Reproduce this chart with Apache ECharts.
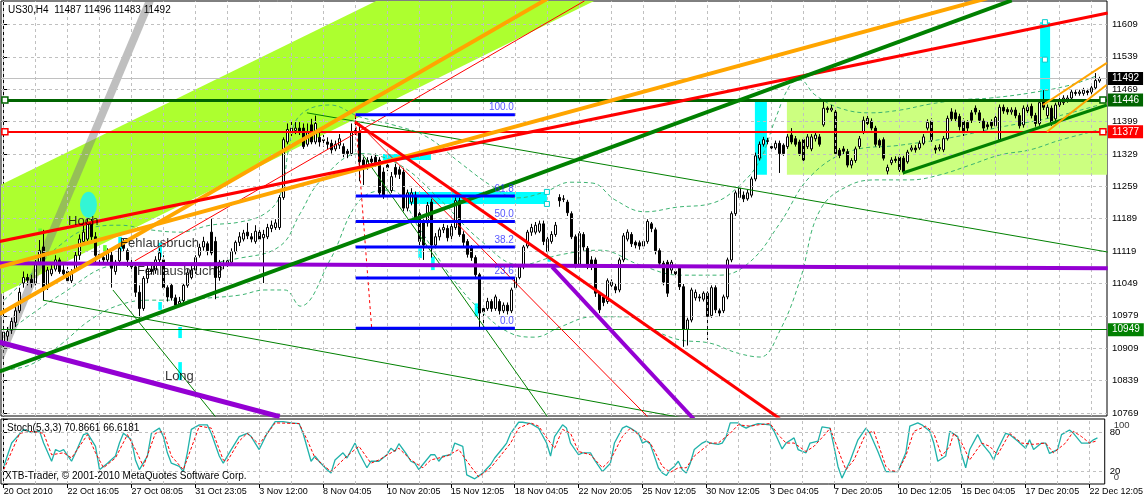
<!DOCTYPE html>
<html><head><meta charset="utf-8"><title>US30,H4</title>
<script src="https://cdn.jsdelivr.net/npm/echarts@6/dist/echarts.min.js"></script>
<style>html,body{margin:0;padding:0;background:#fff;}#chart{width:1146px;height:501px;}</style>
</head><body><div id="chart"></div>
<script>
// ---------- data ----------
const dateLabels = ['20 Oct 2010','22 Oct 16:05','27 Oct 08:05','31 Oct 23:05','3 Nov 12:00','8 Nov 04:05','10 Nov 20:05','15 Nov 12:05','18 Nov 04:05','22 Nov 20:05','25 Nov 12:05','30 Nov 12:05','3 Dec 04:05','7 Dec 20:05','10 Dec 12:05','15 Dec 04:05','17 Dec 20:05','22 Dec 12:05'];
const priceTicks = [10769,10839,10909,10979,11049,11119,11189,11259,11329,11399,11469,11539,11609];
const stochTicks = [0,20,80,100];
const stochInnerLabels = [20,80];
const stochEdgeLabels = [100,0];

// [open, close, low, high] per H4 bar
const candles = [
[10914,10944,10905,10953],[10935,10945,10925,10955],[10948,10967,10940,10975],[10965,10990,10955,11000],[10990,11030,10985,11040],[11050,11062,11040,11075],[11062,11056,11045,11070],[11058,11050,11040,11068],[11050,11092,11045,11100],[11095,11120,11090,11143],
[11128,11035,11013,11165],[11040,11078,11035,11085],[11070,11080,11065,11090],[11080,11100,11075,11110],[11100,11075,11070,11105],[11078,11070,11060,11090],[11075,11055,11050,11085],[11055,11075,11050,11080],[11078,11110,11075,11118],[11110,11145,11100,11155],
[11140,11160,11135,11175],[11145,11180,11140,11190],[11180,11150,11140,11190],[11150,11110,11095,11160],[11112,11105,11095,11120],[11105,11100,11090,11115],[11100,11115,11095,11125],[11110,11082,11040,11120],[11075,11095,11068,11100],[11098,11125,11095,11130],
[11135,11125,11118,11145],[11120,11100,11085,11125],[11092,11085,11075,11100],[11085,11030,11020,11095],[11030,10995,10975,11045],[10995,11060,10990,11065],[11060,11080,11050,11090],[11080,11075,11068,11092],[11078,11100,11070,11108],[11100,11115,11092,11125],
[11100,11040,11035,11110],[11040,11020,11010,11045],[11045,11018,11012,11050],[11018,11002,10998,11025],[11005,11010,10998,11020],[11012,11045,11005,11050],[11045,11072,11040,11080],[11062,11078,11058,11090],[11078,11105,11070,11110],[11110,11127,11105,11135],
[11128,11140,11120,11150],[11135,11120,11110,11140],[11160,11115,11110,11190],[11140,11062,11015,11150],[11062,11095,11055,11100],[11092,11088,11080,11100],[11090,11098,11085,11105],[11095,11118,11090,11125],[11118,11138,11112,11142],[11138,11150,11130,11160],
[11145,11158,11140,11165],[11160,11152,11145,11180],[11150,11145,11138,11158],[11140,11162,11135,11175],[11160,11145,11140,11170],[11148,11155,11050,11165],[11150,11170,11145,11178],[11168,11175,11160,11185],[11170,11180,11165,11188],[11170,11235,11165,11240],
[11235,11360,11230,11365],[11355,11382,11350,11395],[11375,11385,11368,11400],[11380,11385,11372,11398],[11385,11378,11370,11398],[11385,11345,11340,11395],[11350,11375,11345,11395],[11392,11355,11350,11405],[11355,11395,11350,11412],[11365,11355,11345,11375],
[11360,11358,11345,11370],[11355,11350,11340,11365],[11352,11338,11330,11360],[11340,11350,11335,11358],[11348,11362,11340,11372],[11345,11330,11322,11352],[11335,11330,11320,11340],[11330,11375,11325,11395],[11378,11380,11370,11412],[11378,11312,11270,11395],
[11316,11300,11262,11322],[11305,11315,11295,11322],[11318,11312,11305,11325],[11322,11310,11302,11330],[11316,11245,11238,11322],[11290,11240,11232,11300],[11305,11300,11292,11315],[11250,11280,11245,11290],[11300,11285,11278,11308],[11295,11285,11275,11302],
[11290,11212,11205,11298],[11212,11245,11205,11252],[11225,11245,11218,11255],[11240,11190,11182,11248],[11200,11140,11130,11205],[11180,11132,11100,11188],[11180,11218,11172,11225],[11225,11132,11105,11232],[11132,11150,11125,11158],[11150,11165,11142,11170],
[11165,11170,11158,11178],[11168,11148,11140,11175],[11152,11172,11145,11180],[11170,11228,11165,11235],[11228,11155,11150,11235],[11155,11138,11130,11162],[11140,11112,11105,11145],[11128,11105,11098,11132],[11105,11068,11060,11110],[11068,10985,10953,11072],
[10995,10988,10945,11002],[10995,11010,10990,11018],[11010,10995,10988,11015],[10995,11020,10990,11025],[11010,10990,10982,11015],[10990,11002,10985,11008],[11002,10990,10982,11008],[10990,11035,10985,11040],[11040,11062,11035,11068],[11062,11085,11058,11090],
[11085,11128,11080,11132],[11130,11160,11125,11165],[11160,11170,11152,11178],[11160,11175,11155,11182],[11162,11178,11158,11185],[11178,11140,11132,11185],[11118,11145,11112,11150],[11140,11155,11135,11162],[11155,11175,11150,11182],[11235,11228,11215,11242],
[11232,11231,11225,11240],[11225,11202,11195,11230],[11200,11150,11145,11205],[11150,11090,11082,11155],[11090,11157,11085,11162],[11155,11128,11120,11160],[11125,11085,11080,11130],[11100,11085,11078,11108],[11100,11028,11020,11105],[11028,10992,10985,11032],
[11020,11008,11000,11025],[11010,11055,11005,11060],[11045,11052,11040,11058],[11042,11035,11028,11048],[11035,11100,11030,11105],[11100,11152,11095,11158],[11145,11160,11140,11166],[11155,11135,11128,11160],[11138,11132,11125,11142],[11137,11130,11122,11142],
[11130,11140,11125,11145],[11140,11183,11135,11188],[11178,11168,11160,11182],[11165,11120,11112,11170],[11120,11093,11088,11125],[11093,11052,11045,11098],[11095,11028,11020,11100],[11078,11095,11070,11100],[11075,11070,11062,11080],[11082,11042,11035,11088],
[11042,10950,10912,11048],[10950,10970,10915,10975],[10970,11035,10965,11040],[11018,11030,11012,11036],[11020,11018,11010,11026],[11015,11028,11010,11032],[11028,10978,10927,11032],[10980,11040,10975,11045],[11040,10992,10985,11045],[10990,10985,10978,10995],
[10990,11020,10985,11025],[11020,11100,11015,11105],[11100,11200,11095,11205],[11200,11245,11195,11250],[11235,11255,11230,11262],[11240,11232,11225,11248],[11232,11245,11228,11252],[11240,11275,11235,11280],[11275,11325,11270,11332],[11320,11350,11315,11356],
[11350,11360,11345,11366],[11356,11358,11350,11364],[11345,11342,11336,11350],[11342,11352,11338,11358],[11352,11330,11288,11358],[11348,11330,11325,11352],[11345,11366,11340,11372],[11370,11355,11350,11385],[11362,11350,11345,11368],[11355,11330,11325,11360],
[11360,11316,11310,11365],[11345,11366,11340,11372],[11340,11366,11335,11372],[11362,11370,11356,11376],[11366,11350,11345,11372],[11392,11428,11388,11446],[11428,11425,11418,11432],[11424,11428,11420,11435],[11420,11330,11325,11430],[11337,11326,11320,11342],
[11340,11335,11328,11346],[11334,11305,11300,11340],[11305,11315,11298,11320],[11315,11340,11310,11345],[11345,11362,11340,11368],[11376,11402,11372,11410],[11406,11395,11390,11412],[11400,11385,11380,11406],[11385,11350,11345,11390],[11358,11348,11342,11362],
[11360,11320,11315,11365],[11292,11300,11285,11306],[11310,11316,11305,11322],[11318,11315,11310,11324],[11322,11295,11290,11328],[11320,11290,11285,11325],[11312,11333,11308,11338],[11338,11342,11334,11348],[11342,11338,11332,11348],[11342,11352,11338,11358],
[11352,11366,11348,11372],[11385,11397,11380,11404],[11400,11360,11355,11406],[11342,11338,11330,11348],[11340,11343,11335,11350],[11338,11362,11333,11368],[11362,11406,11358,11412],[11420,11405,11400,11428],[11418,11405,11398,11425],[11410,11388,11380,11416],
[11400,11375,11368,11406],[11397,11385,11378,11402],[11418,11402,11396,11424],[11428,11420,11414,11434],[11418,11402,11396,11424],[11400,11385,11378,11406],[11392,11388,11382,11398],[11398,11390,11384,11404],[11390,11408,11385,11414],[11360,11430,11355,11436],
[11430,11422,11416,11436],[11425,11420,11414,11430],[11420,11424,11414,11430],[11424,11412,11406,11430],[11412,11390,11384,11418],[11392,11428,11386,11434],[11430,11422,11416,11436],[11432,11412,11406,11438],[11412,11395,11388,11418],[11395,11440,11390,11446],
[11446,11430,11424,11467],[11412,11430,11406,11436],[11428,11395,11390,11434],[11405,11435,11400,11440],[11435,11445,11430,11450],[11440,11450,11435,11456],[11445,11450,11440,11456],[11450,11463,11446,11468],[11462,11460,11455,11467],[11460,11463,11455,11468],
[11460,11467,11455,11472],[11465,11462,11456,11470],[11463,11472,11458,11477],[11472,11488,11468,11504],[11487,11492,11483,11496]
];

// Bollinger bands, [bar, price] vertices
const bbUpper = [[0.1,11013],[6.6,11067],[14.1,11132],[21.6,11169],[29.1,11175],[36.6,11165],[44.1,11160],[51.6,11175],[59.1,11182],[65.3,11200],[69.1,11240],[71.5,11350],[74.1,11413],[81.6,11435],[89.1,11409],[97.3,11392],[105.8,11366],[114.1,11310],[122.3,11258],[128.3,11234],[135.3,11247],[141.6,11268],[147.3,11266],[152.8,11230],[160.3,11204],[168.3,11214],[177.3,11223],[184.1,11262],[189.1,11316],[192.8,11402],[196.6,11478],[199.1,11489],[202.8,11457],[209.1,11428],[216.6,11418],[224.1,11424],[231.6,11437],[239.1,11446],[246.6,11450],[256.6,11461],[266.6,11478],[273.8,11500]];
const bbMiddle = [[0.1,10938],[14.1,11024],[29.1,11089],[44.1,11089],[59.1,11104],[69.1,11130],[74.1,11200],[79.1,11270],[89.1,11330],[99.1,11305],[109.1,11230],[119.1,11143],[129.1,11089],[139.1,11111],[149.1,11121],[159.1,11089],[169.1,11067],[179.1,11067],[186.6,11096],[194.1,11180],[201.6,11280],[211.6,11335],[224.1,11348],[236.6,11364],[249.1,11387],[261.6,11407],[273.8,11435]];
const bbLower = [[0.1,10862],[6.6,10873],[14.1,10916],[21.6,10970],[29.1,11003],[36.6,11013],[44.1,11013],[51.6,11018],[59.1,11024],[65.3,11035],[70.3,11035],[74.1,11000],[81.6,11100],[89.1,11230],[96.6,11251],[104.1,11165],[111.6,11067],[119.1,10992],[126.6,10942],[132.8,10933],[139.1,10955],[147.3,10977],[155.8,10977],[164.1,10942],[169.1,10927],[176.6,10920],[183.3,10899],[189.1,10890],[194.1,10948],[199.1,11057],[204.1,11208],[211.6,11262],[219.1,11273],[226.6,11273],[234.1,11284],[241.6,11305],[249.1,11327],[256.6,11338],[264.1,11359],[273.8,11381]];

// Stochastic (5,3,3), [bar, value] vertices
const stochK = [[0,27],[2,63],[5,84],[7,79],[8,81],[9,81],[10,63],[12,35],[13,53],[14,50],[15,53],[17,35],[18,48],[20,76],[21,78],[23,58],[24,22],[26,32],[28,43],[29,63],[30,78],[32,68],[33,37],[34,22],[36,43],[37,78],[39,86],[40,73],[41,48],[42,32],[44,27],[45,19],[46,48],[47,84],[49,91],[51,91],[52,78],[54,43],[55,32],[57,53],[59,73],[61,78],[62,73],[64,53],[66,78],[68,96],[70,96],[72,94],[74,93],[75,78],[77,35],[78,43],[79,35],[81,22],[82,17],[83,37],[85,48],[86,40],[88,63],[89,48],[91,25],[92,35],
[94,35],[96,45],[97,55],[98,50],[99,62],[101,45],[102,35],[103,32],[104,22],[105,30],[107,45],[108,45],[109,35],[110,43],[112,45],[113,63],[115,58],[116,14],[118,8],[120,17],[122,30],[123,40],[125,55],[126,63],[127,78],[129,95],[130,95],[132,93],[134,86],[136,63],[137,43],[138,73],[140,91],[141,86],[142,63],[144,45],[145,48],[147,48],[148,37],[150,19],[152,32],[153,63],[155,86],[156,89],[157,86],[159,78],[160,63],[161,66],[162,61],[164,25],[165,17],[166,13],[167,22],[168,27],[169,35],[170,22],[171,17],[172,32],[173,53],[175,63],[176,66],[177,63],[179,61],[180,63],[181,73],[182,94],[184,94],[185,89],[186,86],[187,89],
[189,93],[192,91],[193,81],[195,54],[196,63],[198,71],[199,53],[201,48],[202,63],[204,66],[205,88],[207,86],[208,58],[209,27],[210,9],[212,35],[214,68],[216,86],[217,78],[219,50],[221,19],[222,19],[224,19],[226,48],[227,89],[229,94],[230,91],[232,81],[233,63],[234,35],[236,43],[237,81],[239,73],[240,45],[241,25],[242,53],[244,76],[245,63],[247,48],[248,37],[249,53],[251,78],[252,76],[254,66],[256,55],[257,68],[258,53],[260,63],[261,63],[262,47],[264,53],[265,76],[267,83],[268,78],[270,63],[272,63],[273,68],[274,70.87]];
const stochD = [[0,22],[4,78],[7,81],[10,78],[12,45],[15,48],[17,40],[21,76],[23,48],[25,25],[28,40],[31,76],[33,53],[35,27],[38,78],[40,81],[42,43],[45,22],[49,89],[52,86],[55,37],[56,35],[59,66],[61,78],[64,61],[68,94],[74,93],[76,68],[78,40],[82,19],[86,43],[89,58],[92,32],[94,37],[99,55],[102,37],[105,25],[107,37],[111,43],[114,53],[117,27],[119,11],[122,25],[124,40],[127,63],[129,86],[132,94],[134,89],[137,63],[138,55],[140,84],[142,78],[144,50],[147,45],[150,25],[152,37],[155,73],[157,86],[160,71],[162,63],[165,27],[167,18],[169,25],[171,25],[173,43],[177,63],[179,63],[182,78],[184,91],[187,89],[189,91],[192,93],[194,76],[196,63],[198,63],[201,50],[203,58],[206,78],[207,86],[210,37],[211,22],[213,37],[216,78],[218,81],[221,27],[222,21],[224,19],[226,43],[228,81],[231,89],[233,78],[235,43],[237,58],[238,78],[240,63],[242,37],[245,63],[247,58],[249,45],[252,78],[255,63],[258,61],[261,63],[263,48],[266,63],[268,81],[270,73],[272,63],[274,66.62]];

// drawn trend lines, [bar, price] anchors
const redUpper        = [[-1,11140],[276,11634]];
const orangeSteep     = [[-1,10983],[136,11665]];
const orangeMid       = [[-1,11085],[246,11666]];
const greenLong       = [[-1,10859],[252,11661]];
const redRay          = [[32.8,11098],[145.2,11660]];
const redDownThick    = [[87.8,11398],[194,10757]];
const redDownThin     = [[88.1,11400],[162,10752]];
const fibDiagonal     = [[87.9,11414],[92,10952]];
const greenFanUpper   = [[75.8,11418],[276,11117]];
const greenFanLower   = [[9.8,11013],[170,10758]];
const greenSteepA     = [[27.3,11035],[53.5,10755]];
const greenSteepB     = [[89.8,11327],[136.5,10754]];
const purpleFlat      = [[-1,11093],[276,11082]];
const purpleDownA     = [[-1,10922],[69,10761]];
const purpleDownB     = [[137.1,11085],[172.5,10756]];
const grayTrend       = [[-1,10888],[37,11670]];
const greenRecent     = [[224.8,11288],[275.8,11435]];
const orangeRecentUp  = [[259.8,11435],[275.8,11526]];
const orangeRecentLow = [[260.8,11377],[275.7,11478]];

// filled objects
const greenBand = [[-0.675,11262.7],[93.1,11659.8],[147.6,11659.8],[-0.675,11026.4]];
const paleBox   = [[195.8,11446,275.825,11284]];
const cyanBoxes = [[94.8,11329,106.8,11316],[100.8,11247,135.8,11221],[187.8,11446,190.8,11284],[259.1,11614,261.6,11446]];
const cyanMarks = [[29.1,11150,11117],[39.1,11137,11106],[39.1,11009,10992],[44.1,10955,10931],[44.1,10879,10840],[104.1,11125,11104],[107.3,11107,11078],[118.2,11006,10977],[136.4,11107,11096]];
const limeMarks = [[9.1,11168,11158],[25.3,11132,11118]];
const ellipseAt = [[21.2,11219]];
const handles   = [[135.8,11247],[135.8,11221],[260.3,11614],[260.3,11533]];

// horizontal levels
const levelPrices = [11492, 11446, 11377, 10949];
// Fibonacci retracement
const fibNames  = ['100.0','61.8','50.0','38.2','23.6','0.0'];
const fibPrices = [11414, 11238, 11183, 11128, 11061, 10952];
const fibBars   = [88.0, 127.8];
// annotations
const notes = [['Hoch',16.1,11184],['Fehlausbruch',29.1,11136],['Fehlausbruch?',33.3,11076],['Long',40.3,10847]];

// ---------- chart ----------
const FONT = 'Liberation Sans, Arial, sans-serif';
const X_MIN = -0.675, X_MAX = 275.825;
const Y_MIN = 10762.5, Y_MAX = 11659.8;
const labelBars = dateLabels.map((_, k) => k * 16);
const gridBars = []; for (let b = 0; b <= 272; b += 8) gridBars.push(b);

function line(pts, color, width, z, dash, opacity) {
  return {type:'line', xAxisIndex:0, yAxisIndex:0, data:pts, symbol:'none', showSymbol:false,
    clip:true, silent:true, animation:false, z:z,
    lineStyle:{color:color, width:width, type:dash || 'solid', opacity: opacity == null ? 1 : opacity}};
}
function rects(rows, color, z) {
  return {type:'custom', xAxisIndex:0, yAxisIndex:0, silent:true, animation:false, z:z, data:rows,
    renderItem:function(params, api){
      const a = api.coord([api.value(0), api.value(1)]);
      const b = api.coord([api.value(2), api.value(3)]);
      return {type:'rect', shape:{x:Math.min(a[0],b[0]), y:Math.min(a[1],b[1]), width:Math.abs(b[0]-a[0]), height:Math.abs(b[1]-a[1])}, style:{fill:color}};
    }};
}
const marksToRows = m => m.map(r => [r[0]-0.45, r[1], r[0]+0.45, r[2]]);

const series = [];
// grid lines main
series.push({type:'line', xAxisIndex:0, yAxisIndex:0, data:[[X_MIN-5, Y_MIN]], symbol:'none', silent:true, animation:false, z:1,
  lineStyle:{opacity:0},
  markLine:{silent:true, animation:false, symbol:['none','none'], label:{show:false},
    lineStyle:{color:'#c0c0c0', type:[3,3], width:1},
    data: priceTicks.map(v => ({yAxis:v})).concat(gridBars.map(b => ({xAxis:b})))}});
// grid lines stoch
series.push({type:'line', xAxisIndex:1, yAxisIndex:1, data:[[X_MIN-5, 0]], symbol:'none', silent:true, animation:false, z:1,
  lineStyle:{opacity:0},
  markLine:{silent:true, animation:false, symbol:['none','none'], label:{show:false},
    lineStyle:{color:'#c0c0c0', type:[3,3], width:1},
    data: [{yAxis:20},{yAxis:80}].concat(gridBars.map(b => ({xAxis:b})))}});

// fills
series.push({type:'custom', xAxisIndex:0, yAxisIndex:0, silent:true, animation:false, z:2, data:[[0,11000]],
  renderItem:function(params, api){
    return {type:'polygon', shape:{points: greenBand.map(p => api.coord(p))}, style:{fill:'#adff2f'}};
  }});
series.push(rects(paleBox, '#ccff80', 2));
series.push(rects(cyanBoxes, '#00ffff', 2));
series.push(rects(marksToRows(cyanMarks), '#00ffff', 2));
series.push(rects(marksToRows(limeMarks), '#66ff33', 2));
series.push({type:'scatter', xAxisIndex:0, yAxisIndex:0, data:ellipseAt, symbol:'circle', symbolSize:[17,26], silent:true, animation:false, z:2,
  itemStyle:{color:'#33f5d5', opacity:1}});
series.push(line(grayTrend, '#808080', 8, 3, 'solid', 0.5));

// bollinger bands
[bbUpper, bbMiddle, bbLower].forEach(b => { const s = line(b, '#3cb371', 1, 3, [4,3]); s.smooth = 0.4; series.push(s); });

// candles
series.push({type:'candlestick', xAxisIndex:0, yAxisIndex:0, animation:false, silent:true, z:4,
  dimensions:['bar','open','close','low','high'], encode:{x:0, y:[1,2,3,4]},
  data: candles.map((c, i) => [i, c[0], c[1], c[2], c[3]]),
  barWidth:3,
  itemStyle:{color:'#ffffff', color0:'#000000', borderColor:'#000000', borderColor0:'#000000', borderColorDoji:'#000000', borderWidth:1}});

// trend lines
series.push(line(greenFanUpper, '#008000', 1, 5));
series.push(line(greenFanLower, '#008000', 1, 5));
series.push(line(greenSteepA, '#008000', 1, 5));
series.push(line(greenSteepB, '#008000', 1, 5));
series.push(line(redRay, '#ff0000', 1, 5));
series.push(line(redDownThin, '#ff0000', 1, 5));
series.push(line(fibDiagonal, '#ff0000', 1, 5, [3,3]));
series.push(line(purpleFlat, '#9400d3', 4, 5));
series.push(line(purpleDownA, '#9400d3', 5, 5));
series.push(line(purpleDownB, '#9400d3', 4, 5));
series.push(line(orangeSteep, '#ffa500', 4, 5));
series.push(line(orangeMid, '#ffa500', 4, 5));
series.push(line(redUpper, '#ff0000', 3, 5));
series.push(line(greenLong, '#008000', 4, 5));
series.push(line(redDownThick, '#ff0000', 3, 5));
series.push(line(greenRecent, '#008000', 3, 5));
series.push(line(orangeRecentUp, '#ffa500', 2, 5));
series.push(line(orangeRecentLow, '#ffa500', 2, 5));

// fibonacci
fibPrices.forEach(p => series.push(line([[fibBars[0], p],[fibBars[1], p]], '#0000ff', 3, 5)));
series.push({type:'scatter', xAxisIndex:0, yAxisIndex:0, symbolSize:0, silent:true, animation:false, z:6,
  data: fibPrices.map((p, k) => ({name: fibNames[k], value:[fibBars[1], p]})),
  label:{show:true, formatter:'{b}', position:'left', distance:1, offset:[0,-7], color:'#2a2aff', fontSize:10, fontFamily:FONT}});

// horizontal levels with right-side price boxes
const levelStyle = [
  {color:'#c0c0c0', width:1, bg:'#000000'},
  {color:'#006400', width:3, bg:'#006400'},
  {color:'#ff0000', width:2, bg:'#ff0000'},
  {color:'#008000', width:1, bg:'#008000'}
];
series.push({type:'line', xAxisIndex:0, yAxisIndex:0, data:[[X_MIN-5, Y_MIN]], symbol:'none', silent:true, animation:false, z:5,
  lineStyle:{opacity:0},
  markLine:{silent:true, animation:false, symbol:['none','none'],
    data: levelPrices.map((p, k) => ({yAxis:p,
      lineStyle:{color:levelStyle[k].color, width:levelStyle[k].width, type:'solid'},
      label:{show:true, position:'end', formatter:String(p), distance:1, color:'#ffffff', backgroundColor:levelStyle[k].bg,
        padding:[2,4,1,4], fontSize:10, fontFamily:FONT}}))}});
// hollow end squares of the selected levels
[[11446,'#006400'],[11377,'#ff0000']].forEach(([p, c]) => series.push({type:'scatter', xAxisIndex:0, yAxisIndex:0,
  data:[[0.3, p],[274.8, p]], symbol:'rect', symbolSize:6, silent:true, animation:false, z:6,
  itemStyle:{color:'#ffffff', borderColor:c, borderWidth:1.5, opacity:1}}));
series.push({type:'scatter', xAxisIndex:0, yAxisIndex:0, data:handles, symbol:'rect', symbolSize:5, silent:true, animation:false, z:6,
  itemStyle:{color:'#ffffff', borderColor:'#00cccc', borderWidth:1, opacity:1}});

// annotations
series.push({type:'scatter', xAxisIndex:0, yAxisIndex:0, symbolSize:0, silent:true, animation:false, z:7,
  data: notes.map(n => ({name:n[0], value:[n[1], n[2]]})),
  label:{show:true, formatter:'{b}', position:'right', distance:0, color:'#000', fontSize:13, fontFamily:FONT}});

// stochastic
series.push({type:'line', xAxisIndex:1, yAxisIndex:1, data:stochK, symbol:'none', silent:true, animation:false, z:4,
  lineStyle:{color:'#20b2aa', width:1.3}});
series.push({type:'line', xAxisIndex:1, yAxisIndex:1, data:stochD, symbol:'none', silent:true, animation:false, z:4,
  lineStyle:{color:'#ff0000', width:1, type:[3,2]}});
// stochastic scale edge labels (100 sits just inside the top, 0 just inside the bottom)
series.push({type:'scatter', xAxisIndex:1, yAxisIndex:1, symbolSize:0, silent:true, animation:false, z:7, clip:false,
  data: stochEdgeLabels.map(v => ({name:String(v), value:[X_MAX, v],
    label:{offset:[0, v === 100 ? 6 : -7]}})),
  label:{show:true, formatter:'{b}', position:'right', distance:9, color:'#000', fontSize:9.5, fontFamily:FONT}});

const axisFont = {color:'#000', fontSize:9.5, fontFamily:FONT};
const option = {
  animation:false,
  backgroundColor:'#ffffff',
  textStyle:{fontFamily:FONT},
  grid:[
    {left:1, top:1, width:1106, height:415, show:true, borderColor:'#000', borderWidth:1, backgroundColor:'#fff'},
    {left:1, top:419, width:1106, height:65, show:true, borderColor:'#000', borderWidth:1, backgroundColor:'#fff'}
  ],
  xAxis:[
    {gridIndex:0, type:'value', min:X_MIN, max:X_MAX, axisLine:{show:false}, axisTick:{show:false}, axisLabel:{show:false}, splitLine:{show:false}},
    {gridIndex:1, type:'value', min:X_MIN, max:X_MAX, axisLine:{show:false},
      axisTick:{show:true, customValues:labelBars, length:4, lineStyle:{color:'#000'}},
      axisLabel:{show:true, customValues:labelBars, align:'left', margin:3, hideOverlap:false, color:'#000', fontSize:9, fontFamily:FONT,
        formatter:v => dateLabels[Math.round(v / 16)] || ''},
      splitLine:{show:false}}
  ],
  yAxis:[
    {gridIndex:0, type:'value', position:'right', min:Y_MIN, max:Y_MAX,
      axisLine:{show:true, lineStyle:{color:'#000'}},
      axisTick:{show:true, customValues:priceTicks, length:4, lineStyle:{color:'#000'}},
      axisLabel:Object.assign({show:true, customValues:priceTicks, margin:5, formatter:v => String(v)}, axisFont),
      splitLine:{show:false}},
    {gridIndex:1, type:'value', position:'right', min:0, max:100,
      axisLine:{show:true, lineStyle:{color:'#000'}},
      axisTick:{show:true, customValues:stochTicks, length:4, lineStyle:{color:'#000'}},
      axisLabel:Object.assign({show:true, customValues:stochInnerLabels, margin:5, formatter:v => String(v)}, axisFont),
      splitLine:{show:false}}
  ],
  graphic:[
    {type:'text', left:8, top:5, z:100, style:{text:'US30,H4  11487 11496 11483 11492', fill:'#000', fontSize:10, fontFamily:FONT}},
    {type:'text', left:7, top:423, z:100, style:{text:'Stoch(5,3,3) 70.8661 66.6181', fill:'#000', fontSize:10, fontFamily:FONT}},
    {type:'text', left:5, top:471, z:100, style:{text:'XTB-Trader, \u00A9 2001-2010 MetaQuotes Software Corp.', fill:'#000', fontSize:10, fontFamily:FONT}}
  ],
  series: series
};
const chart = echarts.init(document.getElementById('chart'));
chart.setOption(option);
</script></body></html>
